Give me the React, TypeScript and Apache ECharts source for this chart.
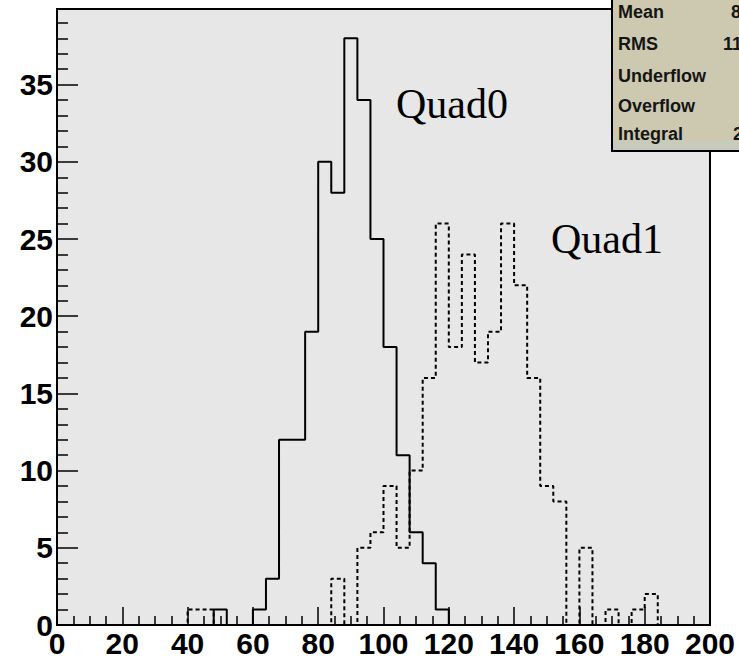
import React, { useEffect, useRef } from 'react';
import * as echarts from 'echarts';

// Histogram binning (x axis)
const binLow = 0;
const binWidth = 4;

// Counts per 4-unit bin, 0..200 (50 bins)
const quad0Counts = [
  0, 0, 0, 0, 0, 0, 0, 0, 0, 0,
  0, 0, 1, 0, 0, 1, 3, 12, 12, 19,
  30, 28, 38, 34, 25, 18, 11, 6, 4, 1,
  0, 0, 0, 0, 0, 0, 0, 0, 0, 0,
  0, 0, 0, 0, 0, 0, 0, 0, 0, 0,
];
const quad1Counts = [
  0, 0, 0, 0, 0, 0, 0, 0, 0, 0,
  1, 1, 0, 0, 0, 0, 0, 0, 0, 0,
  0, 3, 0, 5, 6, 9, 5, 10, 16, 26,
  18, 24, 17, 19, 26, 22, 16, 9, 8, 0,
  5, 0, 1, 0, 1, 2, 0, 0, 0, 0,
];

const seriesNames = ['Quad0', 'Quad1'];
const yTickLabels = [0, 5, 10, 15, 20, 25, 30, 35];
const statNames = ['Mean', 'RMS', 'Underflow', 'Overflow', 'Integral'];
const statValues = ['89.26', '11.28', '', '', '243'];

function toSteps(counts: number[]) {
  const pts: [number, number][] = counts.map((c, i) => [binLow + i * binWidth, c]);
  pts.push([binLow + counts.length * binWidth, counts[counts.length - 1]]);
  return pts;
}

export default function App() {
  const ref = useRef<HTMLDivElement>(null);
  useEffect(() => {
    if (!ref.current) return;
    const chart = echarts.init(ref.current, null, { renderer: 'svg' });
    const sansBold = { fontFamily: '"Liberation Sans", Arial, sans-serif', fontWeight: 'bold' as const };
    const statFont = 'bold 18px "Liberation Sans", Arial, sans-serif';
    const statYs = [12, 44, 76, 106, 134];
    const statValueXs = [731, 723, 760, 760, 733];
    const statGraphics: any[] = [];
    statNames.forEach((n, i) => {
      statGraphics.push({
        type: 'text', x: 618, y: statYs[i], z: 102,
        style: { text: n, fill: '#151515', font: statFont, verticalAlign: 'middle', align: 'left' },
      });
      if (statValues[i]) {
        statGraphics.push({
          type: 'text', x: statValueXs[i], y: statYs[i], z: 102,
          style: { text: statValues[i], fill: '#151515', font: statFont, verticalAlign: 'middle', align: 'left' },
        });
      }
    });

    chart.setOption({
      animation: false,
      backgroundColor: '#ffffff',
      grid: {
        left: 57, right: 29, top: 9, bottom: 34,
        show: true, backgroundColor: '#e7e7e7', borderColor: '#000', borderWidth: 2,
      },
      xAxis: {
        type: 'value', min: 0, max: 200, interval: 20,
        axisLine: { show: true, onZero: false, lineStyle: { color: '#000', width: 2 } },
        axisTick: { show: true, inside: true, length: 18, lineStyle: { color: '#000', width: 1.5 } },
        minorTick: { show: true, splitNumber: 4, length: 9, lineStyle: { color: '#000', width: 1.5 } },
        splitLine: { show: false },
        axisLabel: { color: '#000', fontSize: 30, margin: 3, ...sansBold },
      },
      yAxis: {
        type: 'value', min: 0, max: 39.9, interval: 5,
        axisLine: { show: true, onZero: false, lineStyle: { color: '#000', width: 2 } },
        axisTick: { show: true, inside: true, length: 21, customValues: yTickLabels, lineStyle: { color: '#000', width: 1.5 } },
        minorTick: { show: true, splitNumber: 5, length: 11, lineStyle: { color: '#000', width: 1.5 } },
        splitLine: { show: false },
        axisLabel: { color: '#000', fontSize: 30, margin: 4, customValues: yTickLabels, ...sansBold },
      },
      series: [
        {
          name: seriesNames[1], type: 'line', step: 'end', data: toSteps(quad1Counts),
          showSymbol: false, symbol: 'none', z: 3,
          lineStyle: { color: '#000', width: 2, type: [4, 3] },
        },
        {
          name: seriesNames[0], type: 'line', step: 'end', data: toSteps(quad0Counts),
          showSymbol: false, symbol: 'none', z: 4,
          lineStyle: { color: '#000', width: 2, type: 'solid' },
        },
      ],
      graphic: [
        {
          type: 'text', x: 396, y: 104, z: 50,
          style: { text: seriesNames[0], fill: '#000', font: '42px "Liberation Serif", "Times New Roman", serif', verticalAlign: 'middle', align: 'left' },
        },
        {
          type: 'text', x: 551, y: 239, z: 50,
          style: { text: seriesNames[1], fill: '#000', font: '42px "Liberation Serif", "Times New Roman", serif', verticalAlign: 'middle', align: 'left' },
        },
        {
          type: 'rect', z: 100,
          shape: { x: 612, y: -4, width: 140, height: 155 },
          style: { fill: '#cdc9b0', stroke: '#000', lineWidth: 2 },
        },
        {
          type: 'rect', z: 101,
          shape: { x: 613, y: 141, width: 130, height: 9 },
          style: { fill: '#c7cbbb' },
        },
        ...statGraphics,
      ],
    });
    return () => chart.dispose();
  }, []);
  return <div ref={ref} style={{ position: 'fixed', left: 0, top: 0, width: 739, height: 659 }} />;
}
